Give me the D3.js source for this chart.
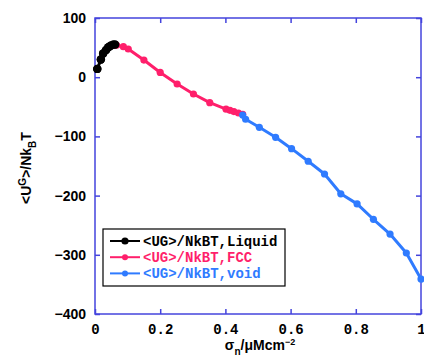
<!DOCTYPE html>
<html>
<head>
<meta charset="utf-8">
<script src="https://cdn.jsdelivr.net/npm/d3@7"></script>
<style>
  body { margin: 0; background: #fff; }
</style>
</head>
<body>
<div id="chart"></div>
<script>
// data
const liquidX = [0.007, 0.018, 0.025, 0.034, 0.041, 0.048, 0.056, 0.062];
const liquidY = [14, 30, 40, 46, 50.5, 53, 55, 55];
const fccX = [0.062, 0.066, 0.087, 0.102, 0.150, 0.200, 0.252, 0.302, 0.352, 0.402, 0.414, 0.426, 0.440, 0.453];
const fccY = [55, 54, 51.5, 47.6, 29, 8, -11.5, -28.4, -43, -54, -56, -58, -60.5, -62.7];
const voidX = [0.453, 0.462, 0.504, 0.554, 0.603, 0.654, 0.704, 0.754, 0.804, 0.854, 0.905, 0.955, 1.0];
const voidY = [-64, -71, -84.6, -101.5, -120.7, -142, -163.5, -197, -214, -240, -265, -297, -341];
const xTicks = [0, 0.2, 0.4, 0.6, 0.8, 1];
const yTicks = [100, 0, -100, -200, -300, -400];
const seriesNames = ["<UG>/NkBT,Liquid", "<UG>/NkBT,FCC", "<UG>/NkBT,void"];

const width = 424, height = 361;
const margin = { top: 18, right: 3, bottom: 47, left: 95 };
const axisColor = "#4444dd";
const colors = ["#000000", "#ff1f6b", "#2f7bff"];

const svg = d3.select("#chart").append("svg")
  .attr("width", width).attr("height", height);

const x = d3.scaleLinear().domain([0, 1]).range([margin.left, width - margin.right]);
const y = d3.scaleLinear().domain([-400, 100]).range([height - margin.bottom, margin.top]);

// frame
svg.append("rect")
  .attr("x", x(0)).attr("y", y(100))
  .attr("width", x(1) - x(0)).attr("height", y(-400) - y(100))
  .attr("fill", "none").attr("stroke", axisColor).attr("stroke-width", 1.5);

// axes, ticks pointing inward
const axB = svg.append("g").attr("transform", `translate(0,${y(-400)})`)
  .call(d3.axisBottom(x).tickValues(xTicks).tickSizeInner(-5).tickSizeOuter(0)
    .tickFormat(d => d === 0 || d === 1 ? d3.format("d")(d) : d3.format(".1f")(d)));
const axL = svg.append("g").attr("transform", `translate(${x(0)},0)`)
  .call(d3.axisLeft(y).tickValues(yTicks).tickSizeInner(-5).tickSizeOuter(0).tickFormat(d3.format("d")));
const axT = svg.append("g").attr("transform", `translate(0,${y(100)})`)
  .call(d3.axisTop(x).tickValues(xTicks).tickSizeInner(-5).tickSizeOuter(0).tickFormat(""));
const axR = svg.append("g").attr("transform", `translate(${x(1)},0)`)
  .call(d3.axisRight(y).tickValues(yTicks).tickSizeInner(-5).tickSizeOuter(0).tickFormat(""));

[axB, axL, axT, axR].forEach(g => {
  g.select(".domain").remove();
  g.selectAll(".tick line").attr("stroke", axisColor).attr("stroke-width", 1.5);
});
axB.selectAll(".tick text")
  .attr("fill", "#000").attr("y", 6).attr("dy", "1.0em")
  .style("font-family", "'Liberation Mono', monospace").style("font-weight", "bold").style("font-size", "14px");
axL.selectAll(".tick text")
  .attr("fill", "#000").attr("x", -9)
  .style("font-family", "'Liberation Sans', Arial, sans-serif").style("font-weight", "bold").style("font-size", "14px")
  .text(d => d < 0 ? "\u2212" + Math.abs(d) : d);

// axis titles
const xt = svg.append("text")
  .attr("x", (x(0) + x(1)) / 2 + 2).attr("y", 350)
  .attr("text-anchor", "middle")
  .style("font-family", "'Liberation Sans', Arial, sans-serif").style("font-weight", "bold").style("font-size", "14px");
xt.append("tspan").text("\u03c3");
xt.append("tspan").attr("dy", 5).style("font-size", "10px").text("n");
xt.append("tspan").attr("dy", -5).text("/\u03bcMcm");
xt.append("tspan").attr("dy", -5).style("font-size", "9px").text("\u22122");

const yt = svg.append("text")
  .attr("transform", `translate(31,${(y(100) + y(-400)) / 2 + 2}) rotate(-90)`)
  .attr("text-anchor", "middle")
  .style("font-family", "'Liberation Sans', Arial, sans-serif").style("font-weight", "bold").style("font-size", "14px");
yt.append("tspan").text("<U");
yt.append("tspan").attr("dy", -5).style("font-size", "10px").text("G");
yt.append("tspan").attr("dy", 5).text(">/Nk");
yt.append("tspan").attr("dy", 5).style("font-size", "10px").text("B");
yt.append("tspan").attr("dy", -5).text("T");

// series
const series = [
  { xs: liquidX, ys: liquidY, r: 4.2 },
  { xs: fccX, ys: fccY, r: 3.6 },
  { xs: voidX, ys: voidY, r: 3.6 }
];
const line = d3.line().x(d => x(d[0])).y(d => y(d[1]));
series.forEach((s, i) => {
  const pts = s.xs.map((v, k) => [v, s.ys[k]]);
  const g = svg.append("g");
  g.append("path").datum(pts).attr("d", line)
    .attr("fill", "none").attr("stroke", colors[i]).attr("stroke-width", 3).attr("stroke-linejoin", "round");
  g.selectAll("circle").data(pts).join("circle")
    .attr("cx", d => x(d[0])).attr("cy", d => y(d[1])).attr("r", s.r)
    .attr("fill", colors[i]);
});
// liquid drawn on top
svg.append("g").selectAll("circle").data(liquidX.map((v, k) => [v, liquidY[k]])).join("circle")
  .attr("cx", d => x(d[0])).attr("cy", d => y(d[1])).attr("r", 4.2).attr("fill", "#000");

// legend
const legend = svg.append("g");
legend.append("rect").attr("x", 103).attr("y", 229).attr("width", 182).attr("height", 57)
  .attr("fill", "#fff").attr("stroke", "#000").attr("stroke-width", 1.2);
seriesNames.forEach((name, i) => {
  const ly = 241 + i * 16.2;
  legend.append("line").attr("x1", 110).attr("x2", 140).attr("y1", ly).attr("y2", ly)
    .attr("stroke", colors[i]).attr("stroke-width", 2);
  legend.append("circle").attr("cx", 125).attr("cy", ly).attr("r", i === 0 ? 3.6 : 3)
    .attr("fill", colors[i]);
  legend.append("text").attr("x", 143).attr("y", ly + 5)
    .attr("fill", colors[i])
    .style("font-family", "'Liberation Mono', monospace").style("font-weight", "bold").style("font-size", "14px")
    .text(name);
});
</script>
</body>
</html>
